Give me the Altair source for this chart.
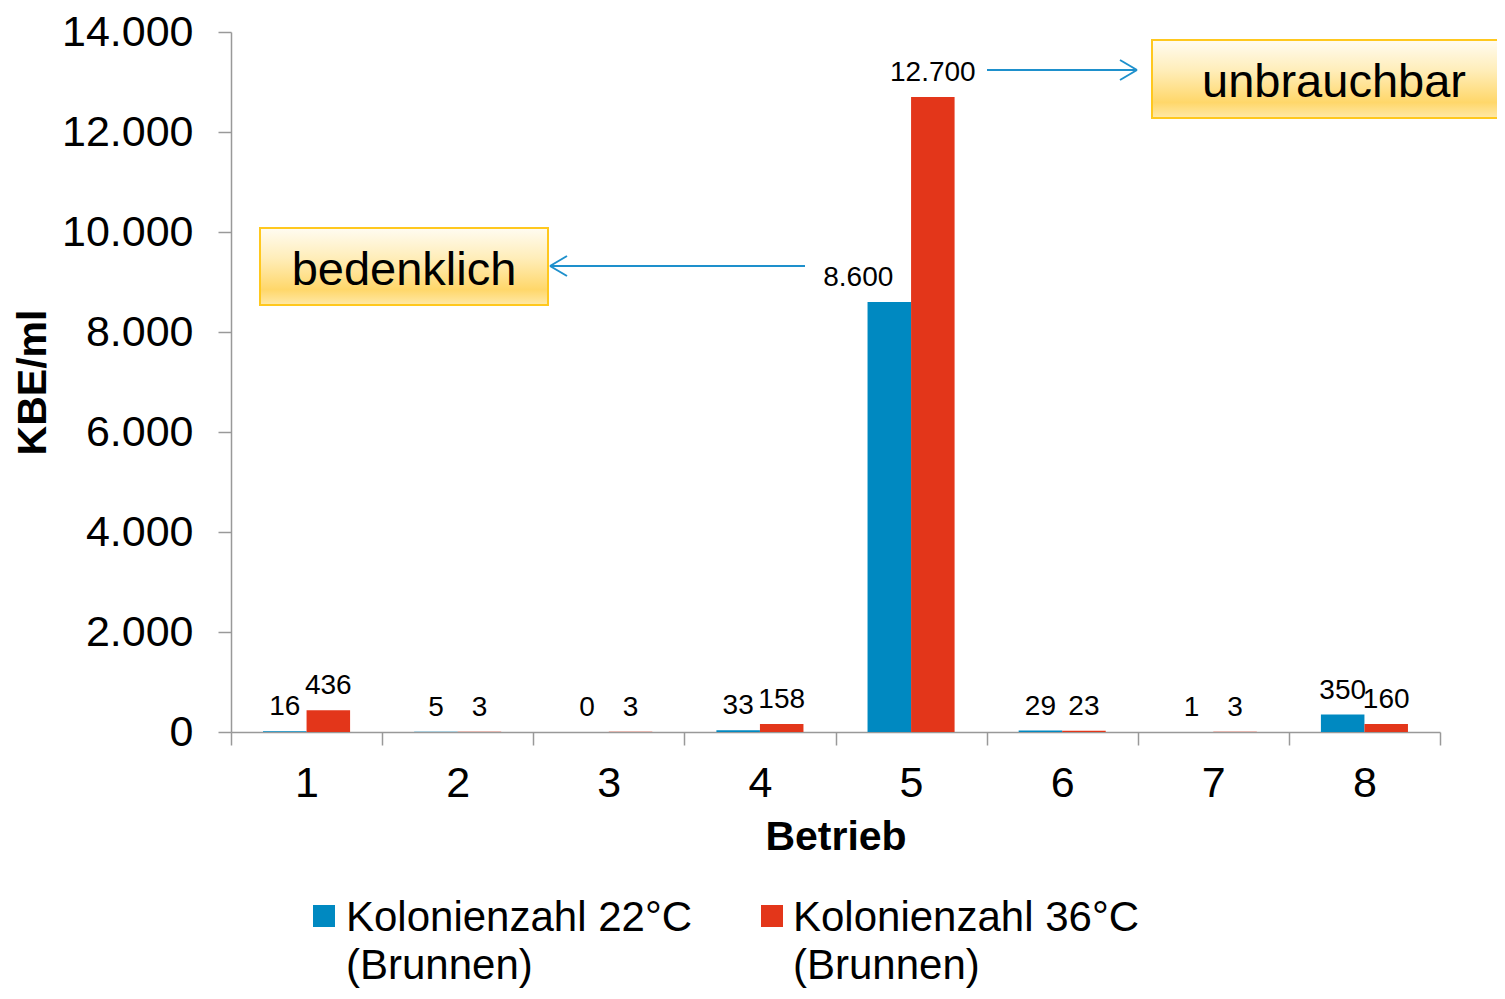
import altair as alt
import pandas as pd

# ---- data ----
betrieb = [1, 2, 3, 4, 5, 6, 7, 8]
kz22 = [16, 5, 0, 33, 8600, 29, 1, 350]
kz36 = [436, 3, 3, 158, 12700, 23, 3, 160]
series = ["Kolonienzahl 22°C (Brunnen)", "Kolonienzahl 36°C (Brunnen)"]
legend_lines = ["Kolonienzahl 22°C\n(Brunnen)", "Kolonienzahl 36°C\n(Brunnen)"]
colors = ["#0089C1", "#E3361A"]
y_ticks = [0, 2000, 4000, 6000, 8000, 10000, 12000, 14000]

rows = []
for b, v1, v2 in zip(betrieb, kz22, kz36):
    rows.append({"Betrieb": b, "Serie": series[0], "Wert": v1})
    rows.append({"Betrieb": b, "Serie": series[1], "Wert": v2})
df = pd.DataFrame(rows)

FONT = "Liberation Sans"
W, H = 1209, 700

color_scale = alt.Scale(domain=series, range=colors)

x_enc = alt.X(
    "Betrieb:O",
    scale=alt.Scale(paddingInner=0, paddingOuter=0),
    axis=alt.Axis(
        title="Betrieb", labelAngle=0, tickBand="extent",
        labelFontSize=43, labelColor="black", labelPadding=17,
        tickSize=13, tickColor="#999999", domainColor="#999999",
        tickWidth=1.5, domainWidth=1.5,
        titleFontSize=41, titleFontWeight="bold", titleColor="black", titlePadding=12,
    ),
)
xoff_enc = alt.XOffset("Serie:N", sort=series,
                       scale=alt.Scale(paddingOuter=0.736, paddingInner=0))
y_enc = alt.Y(
    "Wert:Q",
    scale=alt.Scale(domain=[0, 14000]),
    axis=alt.Axis(
        title="KBE/ml", values=y_ticks, grid=False,
        labelExpr="replace(format(datum.value, ','), ',', '.')",
        labelFontSize=43, labelColor="black", labelPadding=25,
        tickSize=13, tickColor="#999999", domainColor="#999999",
        tickWidth=1.5, domainWidth=1.5,
        titleFontSize=41, titleFontWeight="bold", titleColor="black", titlePadding=7,
    ),
)

base = alt.Chart(df).transform_calculate(
    lbl="replace(format(datum.Wert, ','), ',', '.')"
)

bars = base.mark_bar().encode(
    x=x_enc, xOffset=xoff_enc, y=y_enc,
    color=alt.Color("Serie:N", scale=color_scale, legend=None),
)

labels_main = base.transform_filter(
    f"!(datum.Betrieb == 5 && datum.Serie == '{series[0]}')"
).mark_text(font=FONT, fontSize=28, color="black", baseline="alphabetic", dy=-16).encode(
    x="Betrieb:O", xOffset=xoff_enc, y="Wert:Q", text="lbl:N"
)
labels_shift = base.transform_filter(
    f"datum.Betrieb == 5 && datum.Serie == '{series[0]}'"
).mark_text(font=FONT, fontSize=28, color="black", baseline="alphabetic", dy=-16, dx=-31).encode(
    x="Betrieb:O", xOffset=xoff_enc, y="Wert:Q", text="lbl:N"
)

one = pd.DataFrame({"a": [0]})
box_fill = alt.Gradient(
    gradient="linear",
    stops=[
        alt.GradientStop(color="#FFFCF2", offset=0),
        alt.GradientStop(color="#FFEDB8", offset=0.4),
        alt.GradientStop(color="#FFD76A", offset=0.8),
        alt.GradientStop(color="#FFE9A8", offset=1),
    ],
    x1=0, x2=0, y1=0, y2=1,
)

layers = [bars, labels_main, labels_shift]

# annotation boxes
for (x1, x2, y1, y2, txt, tx, ty) in [
    (29, 317, 196, 273, "bedenklich", 173, 253),
    (921, 1300, 8, 86, "unbrauchbar", 1103, 65),
]:
    layers.append(alt.Chart(one).mark_rect(fill=box_fill, stroke="#FFC81E", strokeWidth=2).encode(
        x=alt.value(x1), x2=alt.value(x2), y=alt.value(y1), y2=alt.value(y2)))
    layers.append(alt.Chart(one).mark_text(font=FONT, fontSize=47, color="black",
                                           align="center", baseline="alphabetic", text=txt).encode(
        x=alt.value(tx), y=alt.value(ty)))

# arrows
segments = [
    (319, 234, 574, 234), (319, 234, 336, 224), (319, 234, 336, 244),
    (756, 38, 906, 38), (906, 38, 889, 28), (906, 38, 889, 48),
]
for (ax, ay, bx, by) in segments:
    layers.append(alt.Chart(one).mark_rule(color="#1E90CC", strokeWidth=2).encode(
        x=alt.value(ax), y=alt.value(ay), x2=alt.value(bx), y2=alt.value(by)))

# legend (manual)
for s, lines, sx, tx in zip(series, legend_lines, [93, 541], [115, 562]):
    ldf = pd.DataFrame({"Serie": [s], "txt": [lines]})
    layers.append(alt.Chart(ldf).mark_square(size=484, opacity=1).encode(
        x=alt.value(sx), y=alt.value(884),
        color=alt.Color("Serie:N", scale=color_scale, legend=None)))
    layers.append(alt.Chart(ldf).mark_text(font=FONT, fontSize=42, color="black", align="left",
                                           baseline="alphabetic", lineBreak="\n", lineHeight=48).encode(
        x=alt.value(tx), y=alt.value(899), text="txt:N"))

chart = alt.layer(*layers).properties(
    width=W, height=H,
    autosize=alt.AutoSizeParams(type="none"),
    padding={"left": 223, "top": 24, "right": 57, "bottom": 259},
).configure(font=FONT).configure_view(stroke=None)

chart.save("out.html", embed_options={"renderer": "svg", "actions": False})
